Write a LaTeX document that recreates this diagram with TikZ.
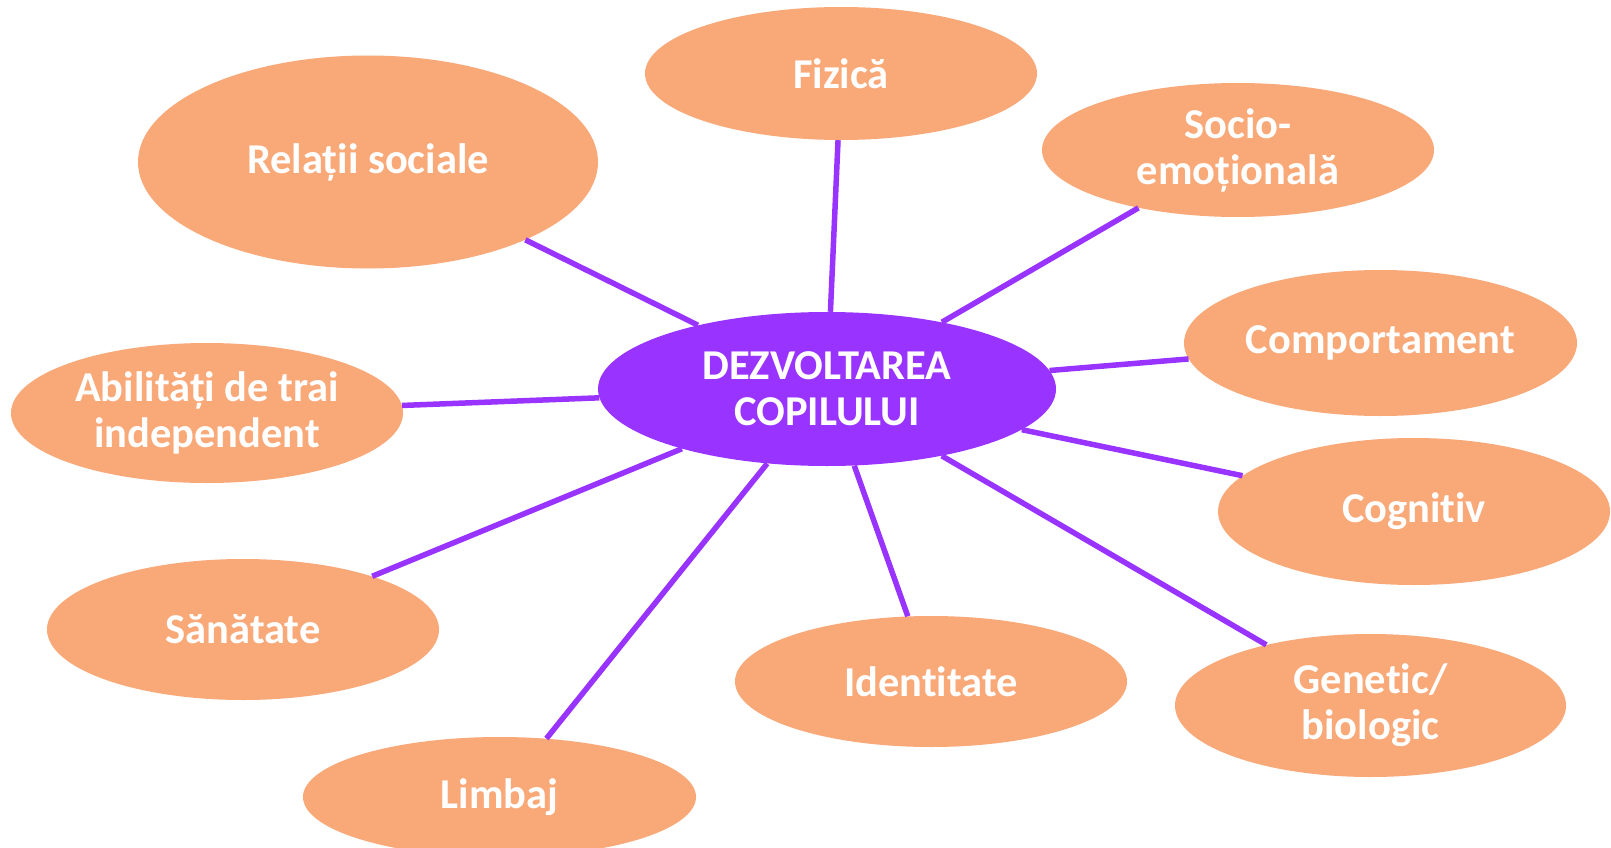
\documentclass[tikz,border=0pt]{standalone}
\usepackage{fontspec}
\setmainfont{Carlito}[Ligatures=NoCommon]
\usetikzlibrary{shapes.geometric}
\definecolor{peach}{HTML}{F9A878}
\definecolor{hubviolet}{HTML}{9933FF}
\begin{document}
\begin{tikzpicture}[x=1pt,y=-1pt,
  bubble/.style={ellipse, fill=peach, draw=none, inner sep=0pt, text=white,
    font=\fontsize{42.5}{46}\selectfont\bfseries, align=center},
  hub/.style={bubble, fill=hubviolet},
  link/.style={draw=hubviolet, line width=5.5pt}]
\useasboundingbox (0,0) rectangle (1611,848);
\clip (0,0) rectangle (1611,848);
\fill[white] (0,0) rectangle (1611,848);

\node[hub, minimum width=458pt, minimum height=154pt] (ctr) at (827,389) {DEZVOLTAREA\\COPILULUI};

\node[bubble, minimum width=460pt, minimum height=213pt] (rel) at (368,162) {Relații sociale};
\node[bubble, minimum width=392pt, minimum height=133pt] (fiz) at (841,73.5) {Fizică};
\node[bubble, minimum width=392pt, minimum height=134pt] (soc) at (1238,150) {Socio-\\emoțională};
\node[bubble, minimum width=393pt, minimum height=146pt] (com) at (1380.5,343) {Comportament};
\node[bubble, minimum width=392pt, minimum height=147pt] (cog) at (1414,511.5) {Cognitiv};
\node[bubble, minimum width=391pt, minimum height=143pt] (gen) at (1370.5,705.5) {Genetic/\\biologic};
\node[bubble, minimum width=392pt, minimum height=131pt] (ide) at (931,681.5) {Identitate};
\node[bubble, minimum width=393pt, minimum height=120pt] (lim) at (499.5,797) {Limbaj};
\node[bubble, minimum width=392pt, minimum height=141pt] (san) at (243,629.5) {Sănătate};
\node[bubble, minimum width=392pt, minimum height=140pt] (abi) at (207,413) {Abilități de trai\\independent};

\draw[link] (rel) -- (ctr);
\draw[link] (fiz) -- (ctr);
\draw[link] (soc) -- (ctr);
\draw[link] (com) -- (ctr);
\draw[link] (cog) -- (ctr);
\draw[link] (gen) -- (ctr);
\draw[link] (ide) -- (ctr);
\draw[link] (lim) -- (ctr);
\draw[link] (san) -- (ctr);
\draw[link] (abi) -- (ctr);
\end{tikzpicture}
\end{document}
